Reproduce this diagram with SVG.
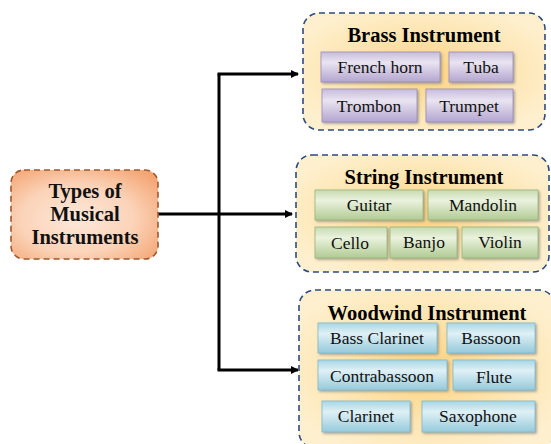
<svg xmlns="http://www.w3.org/2000/svg" width="551" height="444" viewBox="0 0 551 444">
<defs>
<radialGradient id="gMain" cx="0.45" cy="0.55" r="0.7">
<stop offset="0" stop-color="#fde8da"/><stop offset="0.55" stop-color="#fbd3b8"/><stop offset="1" stop-color="#f4a472"/>
</radialGradient>
<radialGradient id="gCont" cx="0.5" cy="0.5" r="0.6">
<stop offset="0" stop-color="#fcd27e"/><stop offset="0.6" stop-color="#fde6b4"/><stop offset="1" stop-color="#fef0cf"/>
</radialGradient>
<linearGradient id="gPur" x1="0" y1="0" x2="0" y2="1">
<stop offset="0" stop-color="#c7bcdc"/><stop offset="0.35" stop-color="#e9e4f1"/><stop offset="1" stop-color="#b3a5cf"/>
</linearGradient>
<linearGradient id="gGrn" x1="0" y1="0" x2="0" y2="1">
<stop offset="0" stop-color="#c7dbb0"/><stop offset="0.35" stop-color="#eaf2de"/><stop offset="1" stop-color="#b1cb93"/>
</linearGradient>
<linearGradient id="gBlu" x1="0" y1="0" x2="0" y2="1">
<stop offset="0" stop-color="#a8d6e3"/><stop offset="0.35" stop-color="#dff0f6"/><stop offset="1" stop-color="#96cadb"/>
</linearGradient>
<marker id="arr" markerWidth="8" markerHeight="8" refX="7" refY="4" orient="auto" markerUnits="userSpaceOnUse" viewBox="0 0 8 8">
<path d="M0,0 L8,4 L0,8 z" fill="#000"/>
</marker>
<filter id="sh" x="-10%" y="-10%" width="125%" height="135%">
<feDropShadow dx="1.5" dy="1.5" stdDeviation="1" flood-color="#777" flood-opacity="0.6"/>
</filter>
</defs>
<style>
.cont{fill:url(#gCont);stroke:#2d4a80;stroke-width:1.6;stroke-dasharray:6 4}
.main{fill:url(#gMain);stroke:#a0582c;stroke-width:1.6;stroke-dasharray:6 4}
.pur{fill:url(#gPur);stroke:#9a8cbc;stroke-width:0.8;filter:url(#sh)}
.grn{fill:url(#gGrn);stroke:#98b57a;stroke-width:0.8;filter:url(#sh)}
.blu{fill:url(#gBlu);stroke:#7fb9cc;stroke-width:0.8;filter:url(#sh)}
.t{font-family:"Liberation Serif","Times New Roman",serif;font-size:17.5px;fill:#111;text-anchor:middle}
.h{font-family:"Liberation Serif","Times New Roman",serif;font-size:20.5px;font-weight:bold;fill:#000;text-anchor:middle}
.m{font-family:"Liberation Serif","Times New Roman",serif;font-size:20.5px;font-weight:bold;fill:#111;text-anchor:middle}
.ln{fill:none;stroke:#000;stroke-width:3}
</style>
<g id="connectors">
<path class="ln" d="M158,214 H292" marker-end="url(#arr)"/>
<path class="ln" d="M219,74 V370"/>
<path class="ln" d="M217.5,74 H298" marker-end="url(#arr)"/>
<path class="ln" d="M217.5,370 H298" marker-end="url(#arr)"/>
</g>
<g id="main">
<rect class="main" x="11" y="170" width="147" height="89" rx="13"/>
<text class="m" x="85" y="198">Types of</text>
<text class="m" x="85" y="221">Musical</text>
<text class="m" x="85" y="244">Instruments</text>
</g>
<g id="brass">
<rect class="cont" x="303" y="13" width="242" height="117" rx="16"/>
<text class="h" x="424" y="42">Brass Instrument</text>
<g id="french-horn"><rect class="pur" x="321" y="52" width="119" height="30"/><text class="t" x="380" y="73">French horn</text></g>
<g id="tuba"><rect class="pur" x="449" y="52" width="64" height="30"/><text class="t" x="481" y="73">Tuba</text></g>
<g id="trombon"><rect class="pur" x="322" y="89" width="95" height="33"/><text class="t" x="369" y="112">Trombon</text></g>
<g id="trumpet"><rect class="pur" x="426" y="89" width="87" height="33"/><text class="t" x="469" y="112">Trumpet</text></g>
</g>
<g id="string">
<rect class="cont" x="296" y="155" width="253" height="117" rx="16"/>
<text class="h" x="424" y="184">String Instrument</text>
<g id="guitar"><rect class="grn" x="315" y="190" width="108" height="30"/><text class="t" x="369" y="211">Guitar</text></g>
<g id="mandolin"><rect class="grn" x="428" y="190" width="110" height="30"/><text class="t" x="483" y="211">Mandolin</text></g>
<g id="cello"><rect class="grn" x="315" y="227" width="72" height="31"/><text class="t" x="350" y="249">Cello</text></g>
<g id="banjo"><rect class="grn" x="390" y="227" width="67" height="31"/><text class="t" x="424" y="248">Banjo</text></g>
<g id="violin"><rect class="grn" x="462" y="227" width="76" height="31"/><text class="t" x="500" y="248">Violin</text></g>
</g>
<g id="woodwind">
<rect class="cont" x="299" y="290" width="256" height="158" rx="16"/>
<text class="h" x="427" y="320">Woodwind Instrument</text>
<g id="bass-clarinet"><rect class="blu" x="318" y="323" width="119" height="30"/><text class="t" x="377" y="344">Bass Clarinet</text></g>
<g id="bassoon"><rect class="blu" x="447" y="323" width="88" height="30"/><text class="t" x="491" y="344">Bassoon</text></g>
<g id="contrabassoon"><rect class="blu" x="318" y="360" width="129" height="30"/><text class="t" x="382" y="382">Contrabassoon</text></g>
<g id="flute"><rect class="blu" x="453" y="360" width="82" height="30"/><text class="t" x="494" y="383">Flute</text></g>
<g id="clarinet"><rect class="blu" x="322" y="401" width="88" height="31"/><text class="t" x="366" y="422">Clarinet</text></g>
<g id="saxophone"><rect class="blu" x="422" y="401" width="113" height="31"/><text class="t" x="478" y="422">Saxophone</text></g>
</g>
</svg>
